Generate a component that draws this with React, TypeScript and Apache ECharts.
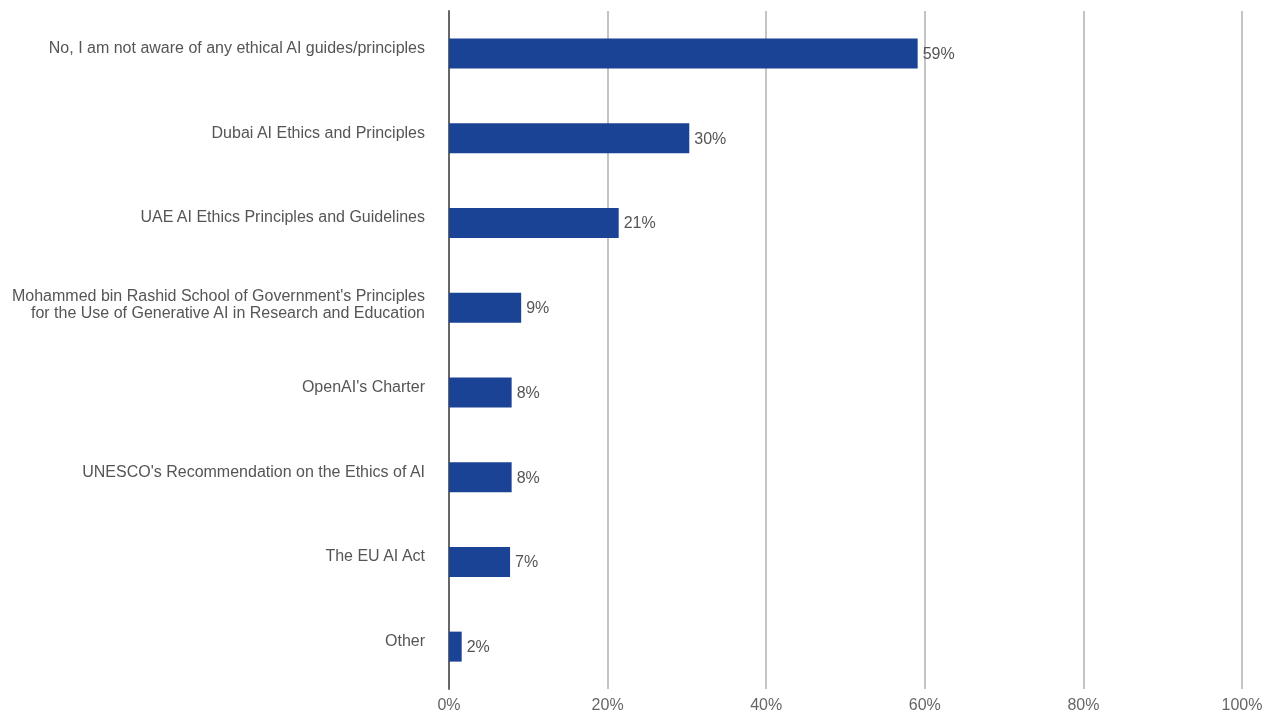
import React, { useEffect, useRef } from "react";
import * as echarts from "echarts";

const categories = [
  "No, I am not aware of any ethical AI guides/principles",
  "Dubai AI Ethics and Principles",
  "UAE AI Ethics Principles and Guidelines",
  "Mohammed bin Rashid School of Government's Principles\nfor the Use of Generative AI in Research and Education",
  "OpenAI's Charter",
  "UNESCO's Recommendation on the Ethics of AI",
  "The EU AI Act",
  "Other",
];
const values = [59.1, 30.3, 21.4, 9.1, 7.9, 7.9, 7.7, 1.6];
const valueLabels = ["59%", "30%", "21%", "9%", "8%", "8%", "7%", "2%"];
const xTicks = [0, 20, 40, 60, 80, 100];

export default function App() {
  const ref = useRef<HTMLDivElement>(null);
  useEffect(() => {
    const chart = echarts.init(ref.current!, null, { renderer: "svg" });
    const font = "'Liberation Sans', Arial, Helvetica, sans-serif";
    chart.setOption({
      animation: false,
      textStyle: { fontFamily: font },
      grid: { left: 449, right: 35, top: 11, bottom: 26, containLabel: false },
      xAxis: {
        type: "value",
        min: xTicks[0],
        max: xTicks[xTicks.length - 1],
        interval: 20,
        axisLine: { show: false },
        axisTick: { show: false },
        axisLabel: {
          formatter: (v: number) => v + "%",
          color: "#666",
          fontSize: 16,
          fontFamily: font,
          margin: 7,
        },
        splitLine: { show: true, lineStyle: { color: "#c4c4c4", width: 2 } },
      },
      yAxis: {
        type: "category",
        data: categories,
        inverse: true,
        axisLine: { show: true, lineStyle: { color: "#666", width: 2 } },
        axisTick: { show: false },
        axisLabel: {
          color: "#555",
          fontSize: 16,
          fontFamily: font,
          margin: 24,
          align: "right",
          formatter: (v: string) => {
            const lines = v.split("\n");
            if (lines.length === 1) return `{s|${v}}`;
            return `{m|${lines[0]}}\n{m|${lines[1]}}\n{e| }`;
          },
          rich: {
            s: { fontSize: 16, color: "#555", fontFamily: font, lineHeight: 18, padding: [0, 0, 12, 0] },
            m: { fontSize: 16, color: "#555", fontFamily: font, lineHeight: 17 },
            e: { fontSize: 1, lineHeight: 7 },
          },
        },
      },
      series: [
        {
          type: "bar",
          data: values,
          barWidth: 30,
          itemStyle: { color: "#1a4396" },
          label: {
            show: true,
            position: "right",
            distance: 5,
            color: "#555",
            fontSize: 16,
            fontFamily: font,
            formatter: (p: any) => valueLabels[p.dataIndex],
          },
        },
      ],
    });
    return () => chart.dispose();
  }, []);
  return (
    <div
      ref={ref}
      style={{ position: "fixed", left: 0, top: 0, width: 1277, height: 715 }}
    />
  );
}
